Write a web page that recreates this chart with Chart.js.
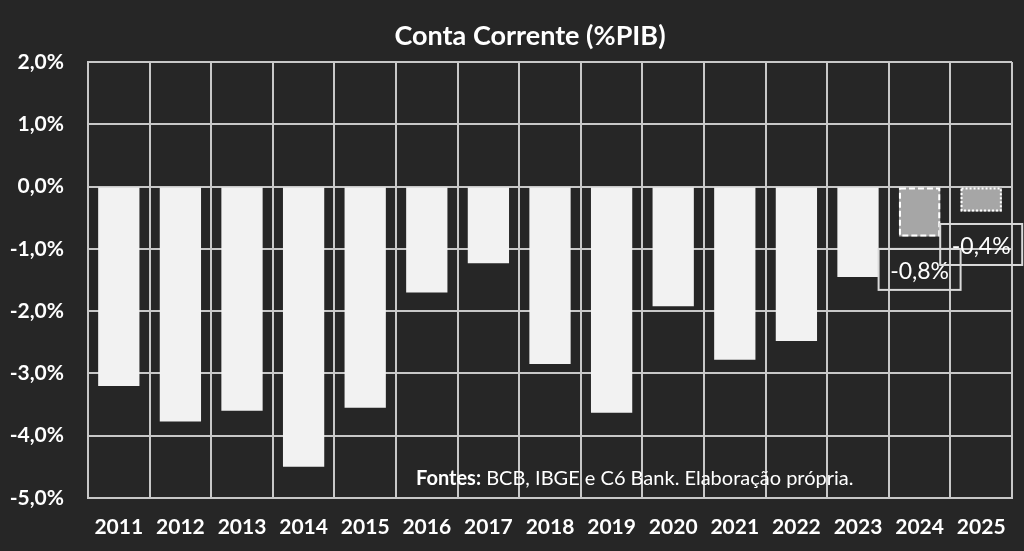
<!DOCTYPE html>
<html>
<head>
<meta charset="utf-8">
<script src="https://cdn.jsdelivr.net/npm/chart.js@4"></script>
<style>
  html, body { margin: 0; padding: 0; background: #262626; }
  #wrap { width: 1024px; height: 551px; }
</style>
</head>
<body>
<div id="wrap"><canvas id="cc"></canvas></div>
<script>
// dados
const anos = ["2011","2012","2013","2014","2015","2016","2017","2018","2019","2020","2021","2022","2023","2024","2025"];
const contaCorrente = [-3.2, -3.77, -3.6, -4.5, -3.55, -1.7, -1.23, -2.85, -3.63, -1.92, -2.78, -2.48, -1.45, -0.8, -0.4];
const rotulos = { "2024": "-0,8%", "2025": "-0,4%" };
const projecoes = ["2024", "2025"];
const titulo = "Conta Corrente (%PIB)";
const fonte = "Fontes:";
const fonteTexto = " BCB, IBGE e C6 Bank. Elaboração própria.";

const FONT = "Lato, 'Open Sans', sans-serif";
const GRID = "#c8c8c8";

const fmtPct = v => v.toFixed(1).replace(".", ",") + "%";

// título, bordas tracejadas, caixas dos rótulos e fonte
const extras = {
  id: "extras",
  afterDatasetsDraw(chart) {
    const { ctx } = chart;
    const meta = chart.getDatasetMeta(0);
    const y = chart.scales.y;
    ctx.save();
    // título
    ctx.fillStyle = "#ffffff";
    ctx.font = "bold 27px " + FONT;
    ctx.textAlign = "center";
    ctx.textBaseline = "middle";
    ctx.fillText(titulo, 530, 36);

    meta.data.forEach((bar, i) => {
      const ano = anos[i];
      if (!projecoes.includes(ano)) return;
      const w = bar.width;
      const x0 = bar.x - w / 2;
      const top = Math.min(bar.y, bar.base), bot = Math.max(bar.y, bar.base);
      ctx.strokeStyle = "#ffffff";
      ctx.lineWidth = 2;
      ctx.setLineDash(ano === "2024" ? [6, 3] : [2, 2]);
      ctx.strokeRect(x0 + 1, top + 1, w - 2, bot - top - 2);
      ctx.setLineDash([]);
      // caixa do rótulo
      const cy = bot + 33;
      ctx.strokeStyle = "#d9d9d9";
      ctx.strokeRect(bar.x - 41, cy - 20.5, 82, 41);
      ctx.fillStyle = "#ffffff";
      ctx.font = "23px " + FONT;
      ctx.textAlign = "center";
      ctx.textBaseline = "middle";
      ctx.fillText(rotulos[ano], bar.x, cy + 2);
    });
    // fonte
    const fy = y.getPixelForValue(-4.69);
    ctx.textAlign = "left";
    ctx.textBaseline = "middle";
    ctx.font = "bold 20px " + FONT;
    const fx = 416;
    ctx.fillStyle = "#ffffff";
    ctx.fillText(fonte, fx, fy);
    const wb = ctx.measureText(fonte).width;
    ctx.font = "20px " + FONT;
    ctx.fillText(fonteTexto, fx + wb, fy);
    ctx.restore();
  }
};

new Chart(document.getElementById("cc"), {
  type: "bar",
  data: {
    labels: anos,
    datasets: [{
      data: contaCorrente,
      backgroundColor: anos.map(a => projecoes.includes(a) ? "#a6a6a6" : "#f2f2f2"),
      borderWidth: 0,
      categoryPercentage: 1,
      barPercentage: 0.67,
    }]
  },
  options: {
    responsive: true, maintainAspectRatio: false, animation: false,
    devicePixelRatio: 1,
    layout: { padding: { left: 0, right: 12, top: 62, bottom: 0 } },
    plugins: {
      legend: { display: false },
      tooltip: { enabled: false },
      title: { display: false },
    },
    scales: {
      x: {
        offset: true,
        grid: { color: GRID, lineWidth: 2, offset: true, drawTicks: false },
        border: { color: GRID, width: 2 },
        ticks: { color: "#ffffff", font: { family: FONT, size: 21, weight: "bold" }, padding: 17, maxRotation: 0 },
        afterFit: s => { s.height = 53; },
      },
      y: {
        min: -5, max: 2,
        grid: { color: GRID, lineWidth: 2, drawTicks: false },
        border: { color: GRID, width: 2 },
        ticks: { stepSize: 1, color: "#ffffff", font: { family: FONT, size: 21, weight: "bold" }, padding: 24, callback: v => fmtPct(v) },
        afterFit: s => { s.width = 88; },
      },
    },
  },
  plugins: [extras],
});
</script>
</body>
</html>
